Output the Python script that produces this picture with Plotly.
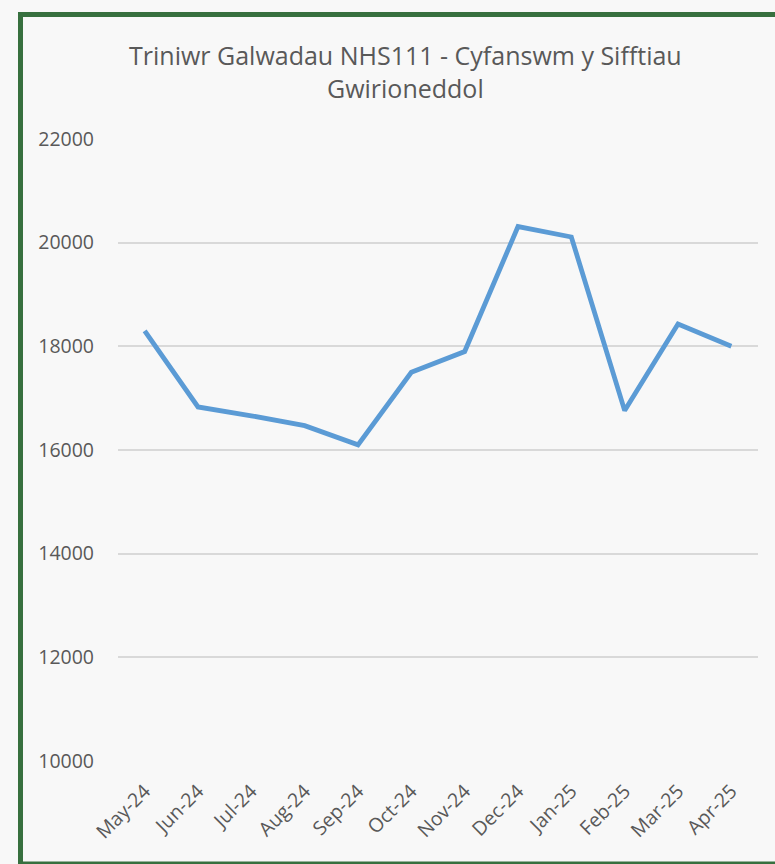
import plotly.graph_objects as go

months = ["May-24", "Jun-24", "Jul-24", "Aug-24", "Sep-24", "Oct-24",
          "Nov-24", "Dec-24", "Jan-25", "Feb-25", "Mar-25", "Apr-25"]
shifts = [18300, 16830, 16660, 16470, 16100, 17500,
          17900, 20310, 20110, 16760, 18430, 18000]
y_ticks = [10000, 12000, 14000, 16000, 18000, 20000, 22000]

title_text = "Triniwr Galwadau NHS111 - Cyfanswm y Sifftiau<br>Gwirioneddol"

W, H = 775, 864
L, R, T, B = 118, 17, 139, 103
pw, ph = W - L - R, H - T - B

def px_x(x):
    return (x - L) / pw

def px_y(y):
    return (H - B - y) / ph

fig = go.Figure()
fig.add_trace(go.Scatter(
    x=months, y=shifts, mode="lines",
    line=dict(color="#5b9bd5", width=4.8),
    hoverinfo="x+y", showlegend=False,
))

font_family = "Open Sans, Noto Sans, sans-serif"

fig.update_layout(
    width=W, height=H,
    margin=dict(l=L, r=R, t=T, b=B, pad=0),
    paper_bgcolor="#f8f8f8",
    plot_bgcolor="#f8f8f8",
    font=dict(family=font_family, color="#595959"),
    showlegend=False,
    xaxis=dict(
        type="category", range=[-0.5, 11.5],
        showgrid=False, zeroline=False, showline=False,
        ticks="", tickangle=-45,
        tickfont=dict(size=19.5, color="#595959", family=font_family),
        ticklabelstandoff=14,
    ),
    yaxis=dict(
        range=[10000, 22000], tickvals=y_ticks,
        ticktext=[str(v) for v in y_ticks],
        showgrid=True, gridcolor="#d9d9d9", gridwidth=1.5,
        zeroline=False, showline=False, ticks="",
        tickfont=dict(size=19.5, color="#595959", family=font_family),
        ticklabelstandoff=23,
    ),
    annotations=[dict(
        text=title_text, xref="paper", yref="paper",
        x=px_x(405), y=px_y(36), xanchor="center", yanchor="top",
        showarrow=False, align="center",
        font=dict(size=25, color="#595959", family=font_family),
    )],
    shapes=[dict(
        type="rect", xref="paper", yref="paper", layer="above",
        x0=px_x(20.5), x1=px_x(790), y0=px_y(864), y1=px_y(14.5),
        line=dict(color="#37703f", width=5), fillcolor="rgba(0,0,0,0)",
    )],
)

fig.write_html(
    "out.html",
    config={"displayModeBar": False},
    post_script="document.body.style.margin='0';document.body.style.padding='0';document.body.style.background='#f8f8f8';",
)
